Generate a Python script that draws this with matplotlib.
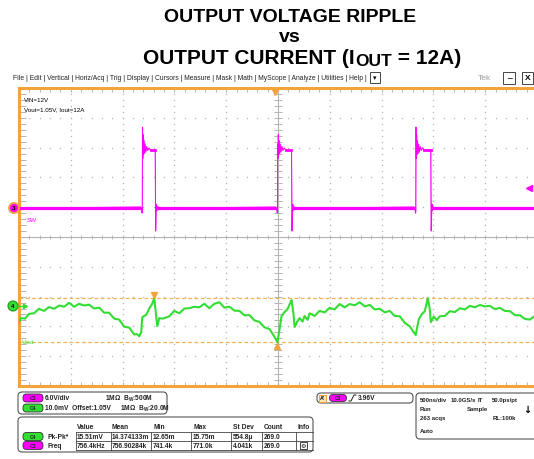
import matplotlib.pyplot as plt
from matplotlib.patches import FancyBboxPatch, Rectangle, Circle
import numpy as np

plt.rcParams['font.family'] = ['Liberation Sans', 'DejaVu Sans']
plt.rcParams['mathtext.fontset'] = 'custom'
plt.rcParams['mathtext.rm'] = 'Liberation Sans'
plt.rcParams['mathtext.bf'] = 'Liberation Sans:bold'

# scope setup
time_per_div_ns = 500
sw_volts_per_div = 6.0
vout_mv_per_div = 10.0
sw_position_div = 0.97
vout_position_div = -2.32
trigger_level_v = 3.96

# C3 (SW node): edges of the three pulses on screen
sw_rise_ns = [-1310, -5, 1330]
sw_fall_ns = [-1185, 131, 1475]
sw_overshoot_v = [16.3, 12.9, 16.3]
sw_high_v = 11.6
pre_dt_ns = [-15, -6, -2, 0]
pre_v = [0.2, -0.4, -1.0, -0.6]
ring_dt_ns = [2, 5, 8, 12, 16, 21, 27, 34, 42, 52, 64, 80]
ring_v = [16.3, 10.0, 14.8, 10.8, 13.6, 11.0, 12.9, 11.3, 12.4, 11.6, 12.1, 11.7]
fall_dt_ns = [-2, 0, 4, 8, 12, 17, 24, 32]
fall_v = [11.6, 11.2, -4.6, -1.2, 0.8, -0.5, 0.3, 0.0]

# C4 (Vout ripple around 1.05 V, mV)
vout_t_ns = [-2500, -2481, -2442, -2403, -2355, -2307, -2258, -2210, -2161, -2113,
             -2065, -2016, -1968, -1920, -1871, -1823, -1775, -1726, -1678, -1630,
             -1581, -1533, -1485, -1436, -1388, -1359, -1339, -1320, -1310, -1272,
             -1243, -1214, -1194, -1175, -1165, -1146, -1117, -1088, -1049, -1001,
             -953, -904, -856, -808, -759, -711, -663, -614, -566, -517,
             -469, -421, -372, -324, -276, -227, -179, -131, -82, -44,
             -5, 15, 34, 63, 92, 121, 131, 150, 160, 189,
             208, 237, 256, 285, 305, 353, 401, 450, 498, 546,
             595, 643, 691, 740, 788, 837, 885, 933, 982, 1030,
             1078, 1127, 1175, 1223, 1272, 1301, 1330, 1340, 1359, 1388,
             1417, 1446, 1465, 1475, 1504, 1533, 1562, 1610, 1659, 1707,
             1755, 1804, 1852, 1900, 1949, 1997, 2045, 2094, 2142, 2190,
             2239, 2287, 2336, 2384, 2432, 2471, 2500]
vout_mv = [-5.4, -4.0, -4.2, -2.6, -2.4, -0.9, -1.6, -0.3, -0.9, 0.2,
           -0.2, 1.1, -0.2, 0.8, 0.2, 0.5, -0.8, -0.5, -2.2, -2.2,
           -4.2, -4.5, -6.9, -7.2, -9.5, -9.4, -10.1, -8.7, -3.7, -2.9,
           -0.8, 0.8, 2.7, -3.7, -6.7, -4.0, -4.2, -3.9, -3.4, -1.6,
           -2.4, -0.8, -0.7, -0.2, -0.4, 0.8, -0.7, 0.8, 1.3, -0.5,
           -0.2, -1.5, -1.6, -3.1, -3.0, -4.8, -5.3, -7.1, -7.7, -9.7,
           -12.1, -7.7, -3.4, -2.0, -1.0, 1.3, 2.0, -2.7, -7.0, -5.0,
           -4.0, -5.2, -3.3, -4.6, -2.4, -3.3, -1.6, -2.1, -0.6, -1.1,
           0.7, -0.4, 0.7, 0.3, 1.3, -0.1, 0.4, -1.1, -0.9, -2.1,
           -1.6, -3.3, -3.4, -5.6, -6.8, -8.3, -9.7, -7.7, -4.4, -2.7,
           -1.7, 2.7, -1.0, -5.4, -3.5, -4.7, -3.4, -3.3, -1.7, -2.0,
           -0.7, -1.1, 0.1, -0.4, 0.4, -0.1, 0.1, -1.0, -0.6, -1.6,
           -1.7, -3.0, -3.1, -4.3, -4.5, -3.5, -3.0]

menu_items = ["File", "Edit", "Vertical", "Horiz/Acq", "Trig", "Display", "Cursors",
              "Measure", "Mask", "Math", "MyScope", "Analyze", "Utilities", "Help"]
meas_headers = ["Value", "Mean", "Min", "Max", "St Dev", "Count", "Info"]
meas_pkpk = ["15.51mV", "14.374133m", "12.65m", "15.75m", "554.8µ", "269.0"]
meas_freq = ["756.4kHz", "756.90284k", "741.4k", "771.0k", "4.041k", "269.0"]

magenta = '#ff00ff'
green = '#33dd33'
orange = '#f2a33a'
grid_c = '#b4b4b4'

W, H = 534, 460
fig = plt.figure(figsize=(W / 100, H / 100), dpi=100)

# ---- scope graticule ----
ax = fig.add_axes([19 / W, 1 - 387 / H, 518 / W, 298 / H])
half = 5 * time_per_div_ns
ax.set_xlim(-half, half)
ax.set_ylim(-5, 5)
ax.set_xticks([])
ax.set_yticks([])
for side in ['left', 'top', 'bottom']:
    ax.spines[side].set_color(orange)
    ax.spines[side].set_linewidth(2.2)
ax.spines['right'].set_visible(False)

minor_x = np.arange(-25, 26) * time_per_div_ns / 5
minor_y = np.arange(-25, 26) / 5
for k in range(-4, 5):
    if k == 0:
        continue
    ax.plot(minor_x, np.full(len(minor_x), k), ls='none', marker='s', ms=0.9, color=grid_c, mew=0)
    ax.plot(np.full(len(minor_y), k * time_per_div_ns), minor_y, ls='none', marker='s', ms=0.9, color=grid_c, mew=0)
ax.axhline(0, color=grid_c, lw=0.8)
ax.axvline(0, color=grid_c, lw=0.8)
ax.vlines(minor_x, -0.08, 0.08, color=grid_c, lw=0.7)
ax.hlines(minor_y, -40, 40, color=grid_c, lw=0.7)
ax.vlines(minor_x, 4.85, 5, color=grid_c, lw=0.7)
ax.vlines(minor_x, -5, -4.85, color=grid_c, lw=0.7)
ax.hlines(minor_y, -half, -half + 70, color=grid_c, lw=0.7)

# ---- SW trace ----
sw_t = [-half]
sw_v = [0.0]
for r, f, ov_v in zip(sw_rise_ns, sw_fall_ns, sw_overshoot_v):
    sw_t += [r + d for d in pre_dt_ns]
    sw_v += pre_v
    sw_t += [r + d for d in ring_dt_ns]
    sw_v += [ov_v] + ring_v[1:]
    sw_t += [f + d for d in fall_dt_ns]
    sw_v += fall_v
sw_t.append(half)
sw_v.append(0.0)
sw_y = np.array(sw_v) / sw_volts_per_div + sw_position_div
ax.plot(sw_t, sw_y, color='#ff55ff', lw=0.8, zorder=3)

base_start = [-half] + [f + fall_dt_ns[-1] for f in sw_fall_ns]
base_end = [r + pre_dt_ns[0] for r in sw_rise_ns] + [half]
for a, b in zip(base_start, base_end):
    ax.plot([a, b], [sw_position_div] * 2, color=magenta, lw=2.3, zorder=3)
for r, f in zip(sw_rise_ns, sw_fall_ns):
    ax.plot([r + ring_dt_ns[-1], f + fall_dt_ns[0]], [sw_high_v / sw_volts_per_div + sw_position_div] * 2,
            color=magenta, lw=2.0, zorder=3)
ax.plot(sw_t, sw_y, color=magenta, lw=0.6, zorder=3)

# ---- Vout trace ----
vout_y = np.array(vout_mv) / vout_mv_per_div + vout_position_div
ax.plot(vout_t_ns, vout_y, color=green, lw=1.5, zorder=4)

# pk-pk cursors and markers
i_max = int(np.argmax(vout_y))
i_min = int(np.argmin(vout_y))
for lvl in [vout_y[i_max], vout_y[i_min]]:
    ax.axhline(lvl, color='#f5b453', lw=0.9, ls=(0, (3, 2)), zorder=2)
ax.plot(vout_t_ns[i_max], vout_y[i_max] + 0.1, marker='v', color=orange, ms=4.5, zorder=5)
ax.plot(vout_t_ns[i_min], vout_y[i_min] - 0.12, marker='^', color=orange, ms=4.5, zorder=5)
ax.plot(half - 75, trigger_level_v / sw_volts_per_div + sw_position_div, marker='<', color=magenta,
        ms=4, clip_on=False, zorder=5)
ax.plot(-30, 4.87, marker='v', color=orange, ms=5, clip_on=False, zorder=5)

ax.text(-half + 45, 4.62, "VIN=12V", fontsize=4.5, va='center')
ax.text(-half + 45, 4.3, "Vout=1.05V, Iout=12A", fontsize=4.5, va='center')
ax.text(-half + 70, sw_position_div - 0.37, "SW", fontsize=4.5, color=magenta, va='center')
ax.text(-half + 30, vout_y[i_min] + 0.03, "Vout", fontsize=4.5, color=green, va='center')

# ---- overlay in screen pixels ----
ov = fig.add_axes([0, 0, 1, 1])
ov.set_xlim(0, W)
ov.set_ylim(H, 0)
ov.axis('off')

ov.text(290, 17, "OUTPUT VOLTAGE RIPPLE", ha='center', va='center', fontsize=14, fontweight='bold')
ov.text(290, 38, "vs", ha='center', va='center', fontsize=14, fontweight='bold')
# third title line in pieces so the subscript can be larger than mathtext's default
rend = fig.canvas.get_renderer()
parts = [("OUTPUT CURRENT (I", 15, 58), ("OUT", 12.5, 62), (" = 12A)", 15, 58)]
pieces = []
x = 0
for s, fs, y in parts:
    t = ov.text(x, y, s, ha='left', va='center', fontsize=fs, fontweight='bold')
    w = t.get_window_extent(rend).width
    pieces.append((t, x, y))
    x += w
x0 = 302 - x / 2
for t, xi, y in pieces:
    t.set_position((x0 + xi, y))

ov.text(13, 79, " | ".join(menu_items) + " |", fontsize=4.9, va='center', color='#222')
ov.add_patch(Rectangle((370, 73), 10, 11, fc='white', ec='#444', lw=0.7))
ov.text(375, 78.5, "▾", fontsize=5, ha='center', va='center', family='DejaVu Sans')
ov.text(478, 79, "Tek", fontsize=6, va='center', color='#9a9a9a')
ov.add_patch(Rectangle((503, 73), 12, 12, fc='white', ec='#444', lw=0.7))
ov.text(509, 80, "_", fontsize=6, ha='center', va='bottom', fontweight='bold')
ov.add_patch(Rectangle((522, 73), 11, 12, fc='white', ec='#444', lw=0.7))
ov.text(527.5, 79, "X", fontsize=6, ha='center', va='center', fontweight='bold')

# channel markers
ov.add_patch(Circle((14, 209), 5, fc=magenta, ec=orange, lw=1.3))
ov.text(14, 209, "3", fontsize=4.5, ha='center', va='center', fontweight='bold')
ov.add_patch(Circle((13, 307), 5, fc=green, ec='#1c9a1c', lw=0.8))
ov.text(13, 307, "4", fontsize=4.5, ha='center', va='center', fontweight='bold')
ov.plot([18, 25], [307, 307], color=green, lw=1)
ov.plot(25, 307, marker='>', color=green, ms=3)


def badge(x, y, label, color, w=20, h=8):
    ov.add_patch(FancyBboxPatch((x - w / 2, y - h / 2), w, h, boxstyle="round,pad=0,rounding_size=3.5",
                                fc=color, ec='#333', lw=0.6))
    ov.text(x, y, label, ha='center', va='center', fontsize=3.6, fontweight='bold', color='#222')


def panel(x0, y0, x1, y1):
    ov.add_patch(FancyBboxPatch((x0, y0), x1 - x0, y1 - y0, boxstyle="round,pad=0,rounding_size=4",
                                fc='white', ec='#555', lw=0.8))


small = dict(fontsize=4.8, fontweight='bold', va='center', color='#222')
tiny = dict(fontsize=4.3, fontweight='bold', va='center', color='#222')

panel(18, 393, 167, 415)
badge(33, 399, "C3", magenta)
ov.text(45, 399, "6.0V/div", **small)
ov.text(105, 399, r"1MΩ  $\mathregular{B_W}$:500M", **small)
badge(33, 409, "C4", green)
ov.text(45, 409, "10.0mV  Offset:1.05V", **small)
ov.text(120, 409, r"1MΩ  $\mathregular{B_W}$:20.0M", **small)

panel(18, 418, 313, 453)
col_x = [77, 112, 153, 193, 233, 264, 298]
borders = [76, 111, 151, 191, 231, 262, 296]
for hdr, x in zip(meas_headers, col_x):
    ov.text(x, 428, hdr, **small)
for yl in [433, 442, 451]:
    ov.plot([76, 313], [yl, yl], color='#444', lw=0.6)
for xb in borders:
    ov.plot([xb, xb], [433, 451], color='#444', lw=0.6)
badge(33, 437.5, "C4", green)
ov.text(47, 437.5, "Pk-Pk*", **small)
badge(33, 446.5, "C3", magenta)
ov.text(47, 446.5, "Freq", **small)
for vals, y in [(meas_pkpk, 437.5), (meas_freq, 446.5)]:
    for v, x in zip(vals, col_x):
        ov.text(x, y, v, **small)
ov.add_patch(Rectangle((300, 443), 7, 7, fc='white', ec='#222', lw=0.6))
ov.text(303.5, 446.5, "⚙", fontsize=4.5, ha='center', va='center', family='DejaVu Sans')

panel(317, 394, 413, 404)
ov.add_patch(Rectangle((319, 395.5), 7, 7, fc='#fde3b8', ec=orange, lw=0.7))
ov.text(322.5, 399, "A'", fontsize=3.8, ha='center', va='center', fontweight='bold')
badge(338, 399, "C3", magenta, w=17, h=7)
ov.plot([349, 351, 354, 356], [402, 402, 396, 396], color='#222', lw=0.7)
ov.text(358, 399, "3.96V", **small)

panel(416, 394, 545, 440)
ov.text(420, 401, "500ns/div", **tiny)
ov.text(451, 401, "10.0GS/s", **tiny)
ov.text(478, 401, "IT", **tiny)
ov.text(492, 401, "50.0ps/pt", **tiny)
ov.text(420, 410, "Run", **tiny)
ov.text(467, 410, "Sample", **tiny)
ov.text(527, 410, "↓", fontsize=7, fontweight='bold', va='center', ha='center', family='DejaVu Sans')
ov.text(420, 419, "263 acqs", **tiny)
ov.text(493, 419, "RL:100k", **tiny)
ov.text(420, 432, "Auto", **tiny)

fig.savefig("out.png", dpi=100)
